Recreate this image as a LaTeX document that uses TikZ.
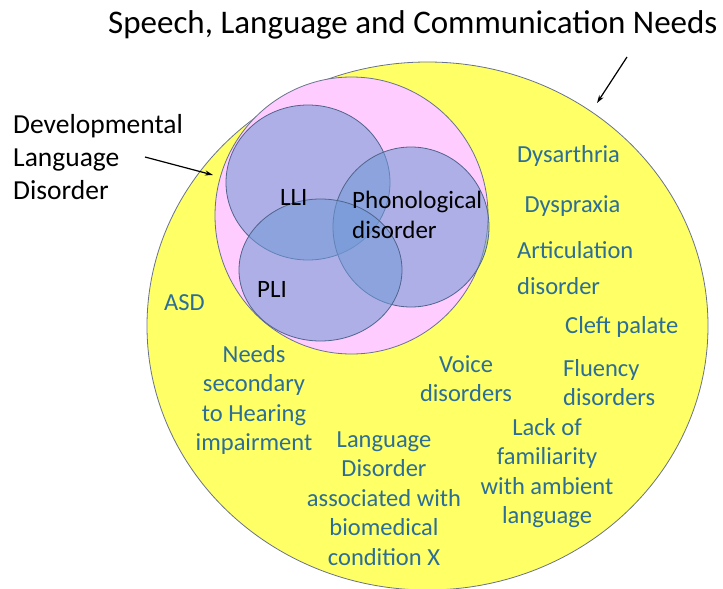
\documentclass[tikz,border=0pt]{standalone}
\usepackage{fontspec}
\setmainfont{Carlito}
\usetikzlibrary{shapes.geometric,arrows.meta}
\definecolor{slcnyellow}{RGB}{255,255,102}
\definecolor{dldpink}{RGB}{255,204,255}
\definecolor{subblue}{RGB}{113,154,214}
\definecolor{edgegray}{RGB}{105,115,140}
\definecolor{edgeblue}{RGB}{80,100,140}
\definecolor{labelblue}{RGB}{44,110,150}
\begin{document}
\begin{tikzpicture}[x=1pt,y=-1pt,
  region/.style={ellipse, draw=edgegray, line width=0.8pt, inner sep=0pt},
  subset/.style={ellipse, draw=edgeblue, line width=0.8pt, inner sep=0pt, fill=subblue, fill opacity=0.56},
  blabel/.style={text=labelblue, font=\fontsize{24.5}{29.6}\selectfont, inner sep=0pt},
  klabel/.style={text=black, font=\fontsize{25}{30}\selectfont, inner sep=0pt},
  pointer/.style={-{Stealth[length=8pt,width=5pt]}, line width=1.2pt}]
\useasboundingbox (0,0) rectangle (723,589);
% circles
\node[region, fill=slcnyellow, minimum width=561pt, minimum height=528pt] (slcn) at (427.5,326) {};
\node[region, fill=dldpink, minimum width=273pt, minimum height=277pt] (dld) at (351.5,215.5) {};
\node[subset, minimum width=164pt, minimum height=155pt] (lli) at (308,182.5) {};
\node[subset, minimum width=156pt, minimum height=160pt] (phon) at (411,227) {};
\node[subset, minimum width=163pt, minimum height=142pt] (pli) at (320.5,270) {};
% titles
\node[anchor=base west, inner sep=0pt, font=\fontsize{33}{38}\selectfont] (title) at (108,33) {Speech, Language and Communication Needs};
\node[anchor=base west, inner sep=0pt, align=left, font=\fontsize{27.5}{33}\selectfont] (dldtext) at (13,199) {Developmental\\Language\\Disorder};
\coordinate (titletail) at (627,57);
\coordinate (titlehead) at (597,103);
\coordinate (dldtail) at (145,157);
\coordinate (dldhead) at (213,175);
\draw[pointer] (titletail) -- (titlehead);
\draw[pointer] (dldtail) -- (dldhead);
% inner labels
\node[klabel, anchor=base west] (llitext) at (280,205) {LLI};
\node[klabel, anchor=base west] (plitext) at (257,297) {PLI};
\node[klabel, anchor=base west, align=left] (phontext) at (352,238) {Phonological\\disorder};
% outer labels
\node[blabel, anchor=base] (dysarthria) at (568.5,162) {Dysarthria};
\node[blabel, anchor=base] (dyspraxia) at (572.5,212) {Dyspraxia};
\node[blabel, anchor=base west, align=left, font=\fontsize{24.5}{36}\selectfont] (artic) at (517,294) {Articulation\\disorder};
\node[blabel, anchor=base west] (asd) at (164,310) {ASD};
\node[blabel, anchor=base west] (cleft) at (565,333) {Cleft palate};
\node[blabel, anchor=base, align=center] (hearing) at (254,450.8) {Needs\\secondary\\to Hearing\\impairment};
\node[blabel, anchor=base, align=center, font=\fontsize{24.5}{29}\selectfont] (voice) at (466,401) {Voice\\disorders};
\node[blabel, anchor=base west, align=left] (fluency) at (563,405.6) {Fluency\\disorders};
\node[blabel, anchor=base, align=center] (lack) at (547,523.8) {Lack of\\familiarity\\with ambient\\language};
\node[blabel, anchor=base, align=center] (biomed) at (384,565.4) {Language\\Disorder\\associated with\\biomedical\\condition X};
\end{tikzpicture}
\end{document}
